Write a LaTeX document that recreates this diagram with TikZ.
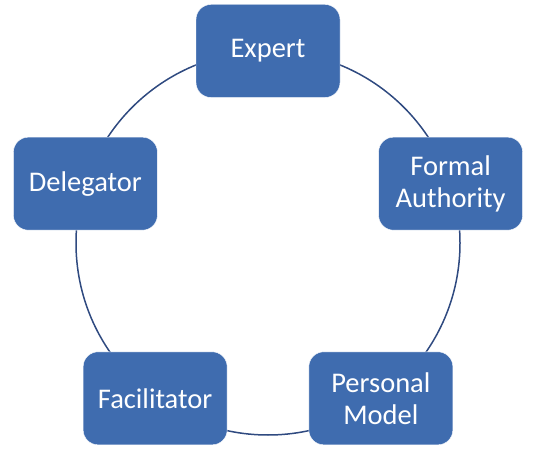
\documentclass[tikz,border=0pt]{standalone}
\usepackage{fontspec}
\setmainfont{Carlito}
\usepackage{tikz}
\usetikzlibrary{calc}
\definecolor{boxblue}{HTML}{3F6CAF}
\definecolor{ringblue}{HTML}{2F4A80}
\tikzset{
	rolebox/.style={rectangle, rounded corners=15pt, fill=boxblue, draw=white, thin, text=white,
		minimum width=144pt, minimum height=93pt, align=center, font=\fontsize{28.5}{32}\selectfont},
}

\begin{document}
\begin{tikzpicture}[x=1pt,y=1pt]
		\useasboundingbox (0,0) rectangle (540,455);
		\coordinate (c) at (268,212);
		\draw[ringblue, line width=1.5pt] (c) circle (192);
		
		\node[rolebox] (expert) at ($(c)+(90:192)$) {Expert};
		\node[rolebox] (formal) at ($(c)+(18:192)$) {Formal\\Authority};
		\node[rolebox] (personal) at ($(c)+(-54:192)$) {Personal\\Model};
		\node[rolebox] (facilitator) at ($(c)+(-126:192)$) {Facilitator};
		\node[rolebox] (delegator) at ($(c)+(162:192)$) {Delegator};
	\end{tikzpicture}
\end{document}
